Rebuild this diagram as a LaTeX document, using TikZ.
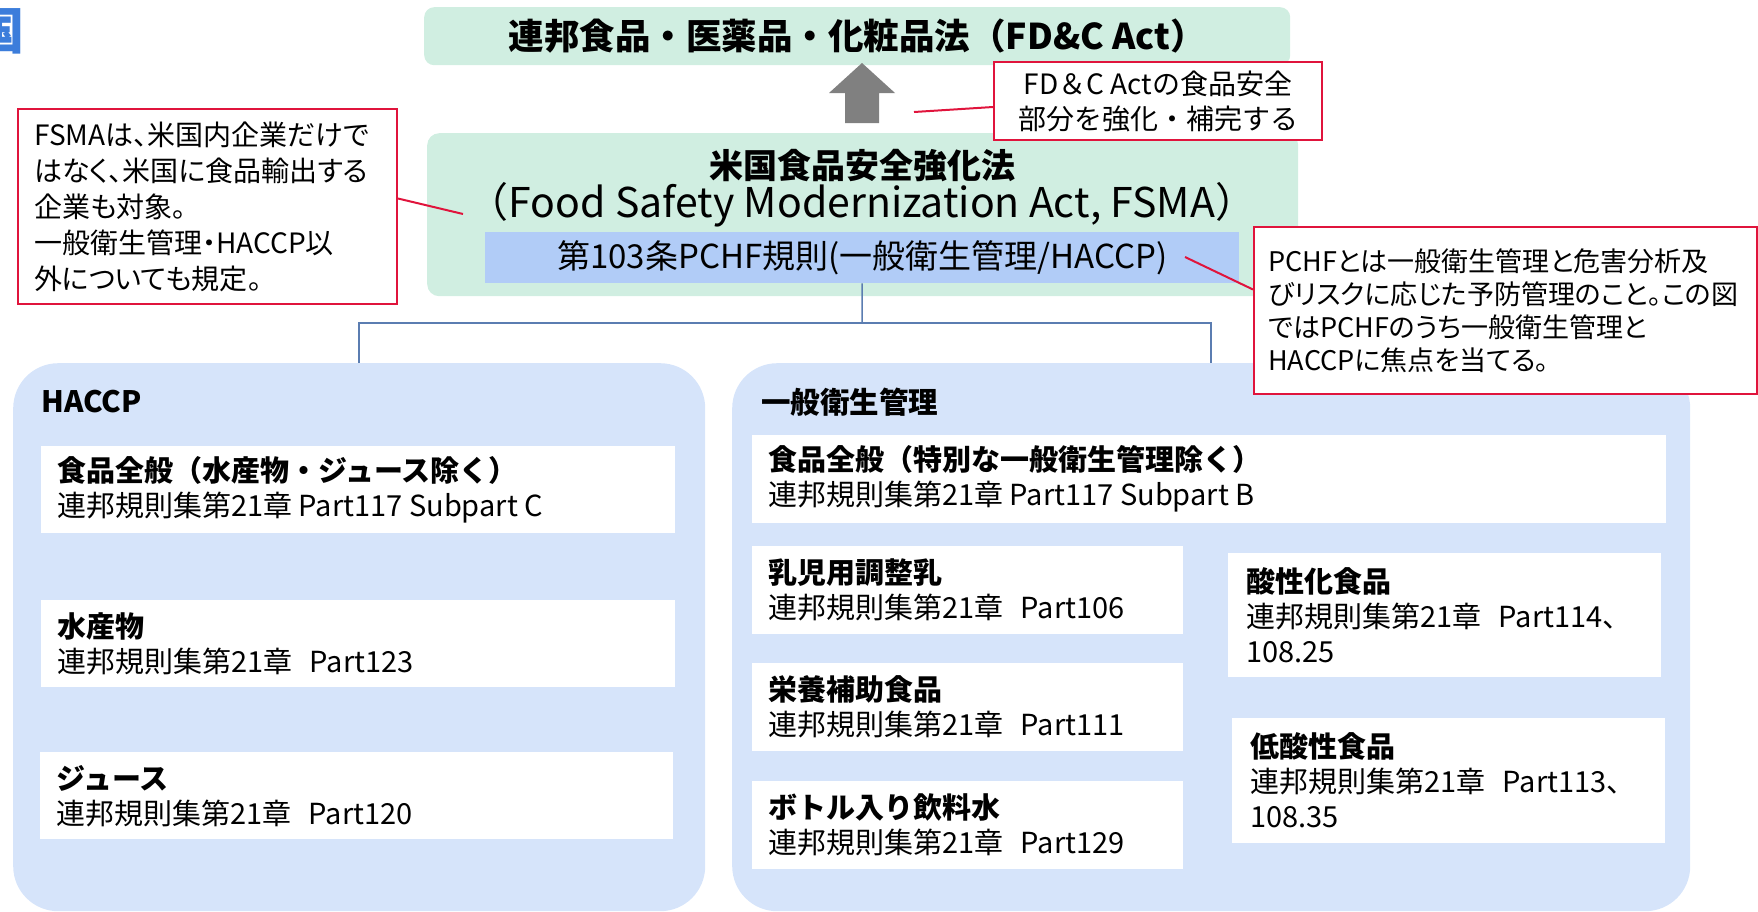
\documentclass[tikz,border=0pt]{standalone}
\usepackage{fontspec}
\setmainfont{Noto Sans CJK JP}
\newfontfamily\paltfont{Noto Sans CJK JP}[RawFeature=+palt]
\definecolor{mint}{HTML}{D0EEE1}
\definecolor{bigblue}{HTML}{D6E4FA}
\definecolor{bandblue}{HTML}{B1CCF7}
\definecolor{callred}{HTML}{E0143C}
\definecolor{connblue}{HTML}{5B7DB1}
\definecolor{arrowgray}{HTML}{808080}
\definecolor{titleblue}{HTML}{3C7DDB}
\newcommand\fsz[2]{\fontsize{#1}{#2}\selectfont}
\begin{document}
\begin{tikzpicture}[x=1pt,y=-1pt,
  greenbox/.style={fill=mint, draw=none, rounded corners=12pt, anchor=north west, inner sep=0pt},
  bigbox/.style={fill=bigblue, draw=none, rounded corners=45pt, anchor=north west, inner sep=0pt},
  subbox/.style={fill=white, draw=none, anchor=north west, inner sep=0pt},
  subtxt/.style={anchor=west, align=left, inner sep=0pt, font=\fsz{29}{35}},
  callout/.style={fill=white, draw=callred, line width=2pt, anchor=north west, inner sep=0pt},
  calltxt/.style={align=left, inner sep=0pt, font=\paltfont\fsz{28}{36}},
  callline/.style={draw=callred, line width=2pt},
  conn/.style={draw=connblue, line width=1.5pt},
  heading/.style={anchor=west, inner sep=0pt, font=\bfseries\fsz{29.5}{34}},
]
\useasboundingbox (0,0) rectangle (1758,911);

% cut-off title glyph
\node[anchor=east, inner sep=0pt, text=titleblue, font=\bfseries\fsz{50}{50}] (cut) at (25,31) {国};

% top law box
\node[greenbox, rounded corners=10pt, minimum width=866pt, minimum height=58pt, font=\bfseries\fsz{35.5}{40}] (fdc) at (424,7) {連邦食品・医薬品・化粧品法（FD\&C Act）};

% FSMA box
\node[greenbox, minimum width=871pt, minimum height=163pt] (fsma) at (427,133) {};
\node[font=\bfseries\fsz{34}{40}, inner sep=0pt] (fsmat1) at (862,166) {米国食品安全強化法};
\node[font=\fsz{41}{44}, inner sep=0pt] (fsmat2) at (862,205) {（Food Safety Modernization Act, FSMA）};
\node[fill=bandblue, anchor=north west, inner sep=0pt, minimum width=754pt, minimum height=51pt, font=\fsz{33}{36}] (pchf) at (485,232) {第103条PCHF規則(一般衛生管理/HACCP)};

% block arrow
\fill[arrowgray] (845,123) -- (845,93) -- (829,93) -- (862,63) -- (895,93) -- (879,93) -- (879,123) -- cycle;

% big group boxes
\node[bigbox, minimum width=692pt, minimum height=548pt] (haccp) at (13,363) {};
\node[bigbox, minimum width=958pt, minimum height=548pt] (gen) at (732,363) {};

% connectors
\coordinate (jn) at (862,323);
\draw[conn] (pchf.south) -- (jn);
\draw[conn] (haccp.north) |- (jn) -| (gen.north);

% headings
\node[heading] (hh) at (41,402) {HACCP};
\node[heading] (gh) at (761,402) {一般衛生管理};

% HACCP sub-boxes
\node[subbox, minimum width=634pt, minimum height=87pt] (h1) at (41,446) {};
\node[subtxt] (h1t) at ([xshift=16pt]h1.west) {\textbf{食品全般（水産物・ジュース除く）}\\連邦規則集第21章 Part117 Subpart C};
\node[subbox, minimum width=634pt, minimum height=87pt] (h2) at (41,600) {};
\node[subtxt] (h2t) at ([xshift=16pt]h2.west) {\textbf{水産物}\\連邦規則集第21章\hspace{0.6em}Part123};
\node[subbox, minimum width=633pt, minimum height=87pt] (h3) at (40,752) {};
\node[subtxt] (h3t) at ([xshift=16pt]h3.west) {\textbf{ジュース}\\連邦規則集第21章\hspace{0.6em}Part120};

% general hygiene sub-boxes
\node[subbox, minimum width=914pt, minimum height=88pt] (g1) at (752,435) {};
\node[subtxt] (g1t) at ([xshift=16pt]g1.west) {\textbf{食品全般（特別な一般衛生管理除く）}\\連邦規則集第21章 Part117 Subpart B};
\node[subbox, minimum width=431pt, minimum height=88pt] (g2) at (752,546) {};
\node[subtxt] (g2t) at ([xshift=16pt]g2.west) {\textbf{乳児用調整乳}\\連邦規則集第21章\hspace{0.6em}Part106};
\node[subbox, minimum width=431pt, minimum height=88pt] (g3) at (752,663) {};
\node[subtxt] (g3t) at ([xshift=16pt]g3.west) {\textbf{栄養補助食品}\\連邦規則集第21章\hspace{0.6em}Part111};
\node[subbox, minimum width=431pt, minimum height=88pt] (g4) at (752,781) {};
\node[subtxt] (g4t) at ([xshift=16pt]g4.west) {\textbf{ボトル入り飲料水}\\連邦規則集第21章\hspace{0.6em}Part129};
\node[subbox, minimum width=433pt, minimum height=124pt] (g5) at (1228,553) {};
\node[subtxt] (g5t) at ([xshift=18pt]g5.west) {\textbf{酸性化食品}\\連邦規則集第21章\hspace{0.6em}Part114、\\108.25};
\node[subbox, minimum width=433pt, minimum height=125pt] (g6) at (1232,718) {};
\node[subtxt] (g6t) at ([xshift=18pt]g6.west) {\textbf{低酸性食品}\\連邦規則集第21章\hspace{0.6em}Part113、\\108.35};

% callouts
\node[callout, minimum width=328pt, minimum height=78pt] (cfdc) at (993,61) {};
\node[calltxt, align=center, font=\fsz{28}{35}] (cfdct) at (cfdc.center) {FD＆C Actの食品安全\\部分を強化・補完する};
\coordinate (pa) at (914,112);
\draw[callline] ([yshift=-6pt]cfdc.west) -- (pa);

\node[callout, minimum width=379pt, minimum height=195pt] (cfsma) at (17,108) {};
\node[calltxt, anchor=west] (cfsmat) at ([xshift=17pt]cfsma.west) {FSMAは、米国内企業だけで\\はなく、米国に食品輸出する\\企業も対象。\\一般衛生管理・HACCP以\\外についても規定。};
\coordinate (pb) at (463,214);
\draw[callline] ([yshift=8pt]cfsma.east) -- (pb);

\node[callout, minimum width=503pt, minimum height=167pt] (cpchf) at (1253,226) {};
\node[calltxt, anchor=west, font=\paltfont\fsz{27}{33}] (cpchft) at ([xshift=15pt]cpchf.west) {PCHFとは一般衛生管理と危害分析及\\びリスクに応じた予防管理のこと。この図\\ではPCHFのうち一般衛生管理と\\HACCPに焦点を当てる。};
\coordinate (pc) at (1185,257);
\draw[callline] ([yshift=21pt]cpchf.west) -- (pc);
\end{tikzpicture}
\end{document}
